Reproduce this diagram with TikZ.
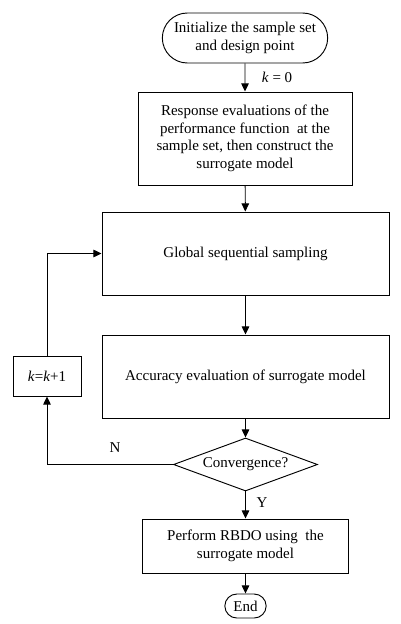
\documentclass[tikz,border=0pt]{standalone}
\usepackage{fontspec}
\setmainfont{Liberation Serif}
\usepackage{tikz}
\usetikzlibrary{shapes.geometric,shapes.misc,arrows.meta}

\begin{document}
\begin{tikzpicture}[
  x=0.03cm, y=-0.03cm,
  font=\fontsize{12.8}{15}\selectfont,
  term/.style={draw=black, rounded rectangle, line width=0.8pt, align=center, inner sep=2pt},
  proc/.style={draw=black, rectangle, line width=0.8pt, align=center, inner sep=3pt},
  decide/.style={draw=black, diamond, aspect=2.7, line width=0.8pt, inner sep=0pt, minimum width=4.32cm, minimum height=1.59cm},
  flow/.style={-{Triangle[length=7pt,width=6.5pt]}, line width=0.8pt, draw=black},
  lbl/.style={font=\fontsize{12.8}{15}\selectfont, inner sep=1pt}
]
\useasboundingbox (0,0) rectangle (401,624);

\node[term, minimum width=5.1cm, minimum height=1.5cm] (init) at (245,38)
  {Initialize the sample set\\and design point};

\node[proc, minimum width=6.42cm, minimum height=2.79cm] (resp) at (245,138.5)
  {Response evaluations of the\\performance function\ \ at the\\sample set, then construct the\\surrogate model};

\node[proc, minimum width=8.61cm, minimum height=2.49cm] (glob) at (245.5,253.5)
  {Global sequential sampling};

\node[proc, minimum width=8.61cm, minimum height=2.49cm] (acc) at (245.5,376.5)
  {Accuracy evaluation of surrogate model};

\node[decide] (conv) at (245.5,464.5) {Convergence?};

\node[proc, minimum width=2.04cm, minimum height=1.2cm] (kinc) at (47,376)
  {\textit{k}=\textit{k}+1};

\node[proc, minimum width=6.18cm, minimum height=1.62cm] (rbdo) at (245.5,546)
  {Perform RBDO using\ \ the\\surrogate model};

\node[term, minimum width=1.38cm, minimum height=0.72cm] (stop) at (245.5,606) {End};

\draw[flow] (init) -- node[lbl, right=13pt] {\textit{k} = 0} (resp);
\draw[flow] (resp) -- (glob);
\draw[flow] (glob) -- (acc);
\draw[flow] (acc) -- (conv);
\draw[flow] (conv) -- node[lbl, right=8pt, pos=0.4] {Y} (rbdo);
\draw[flow] (rbdo) -- (stop);

\draw[flow] (conv.west) -| (kinc.south);
\node[lbl] (nlbl) at (115,448) {N};
\draw[flow] (kinc.north) |- (glob.west);

\end{tikzpicture}
\end{document}
